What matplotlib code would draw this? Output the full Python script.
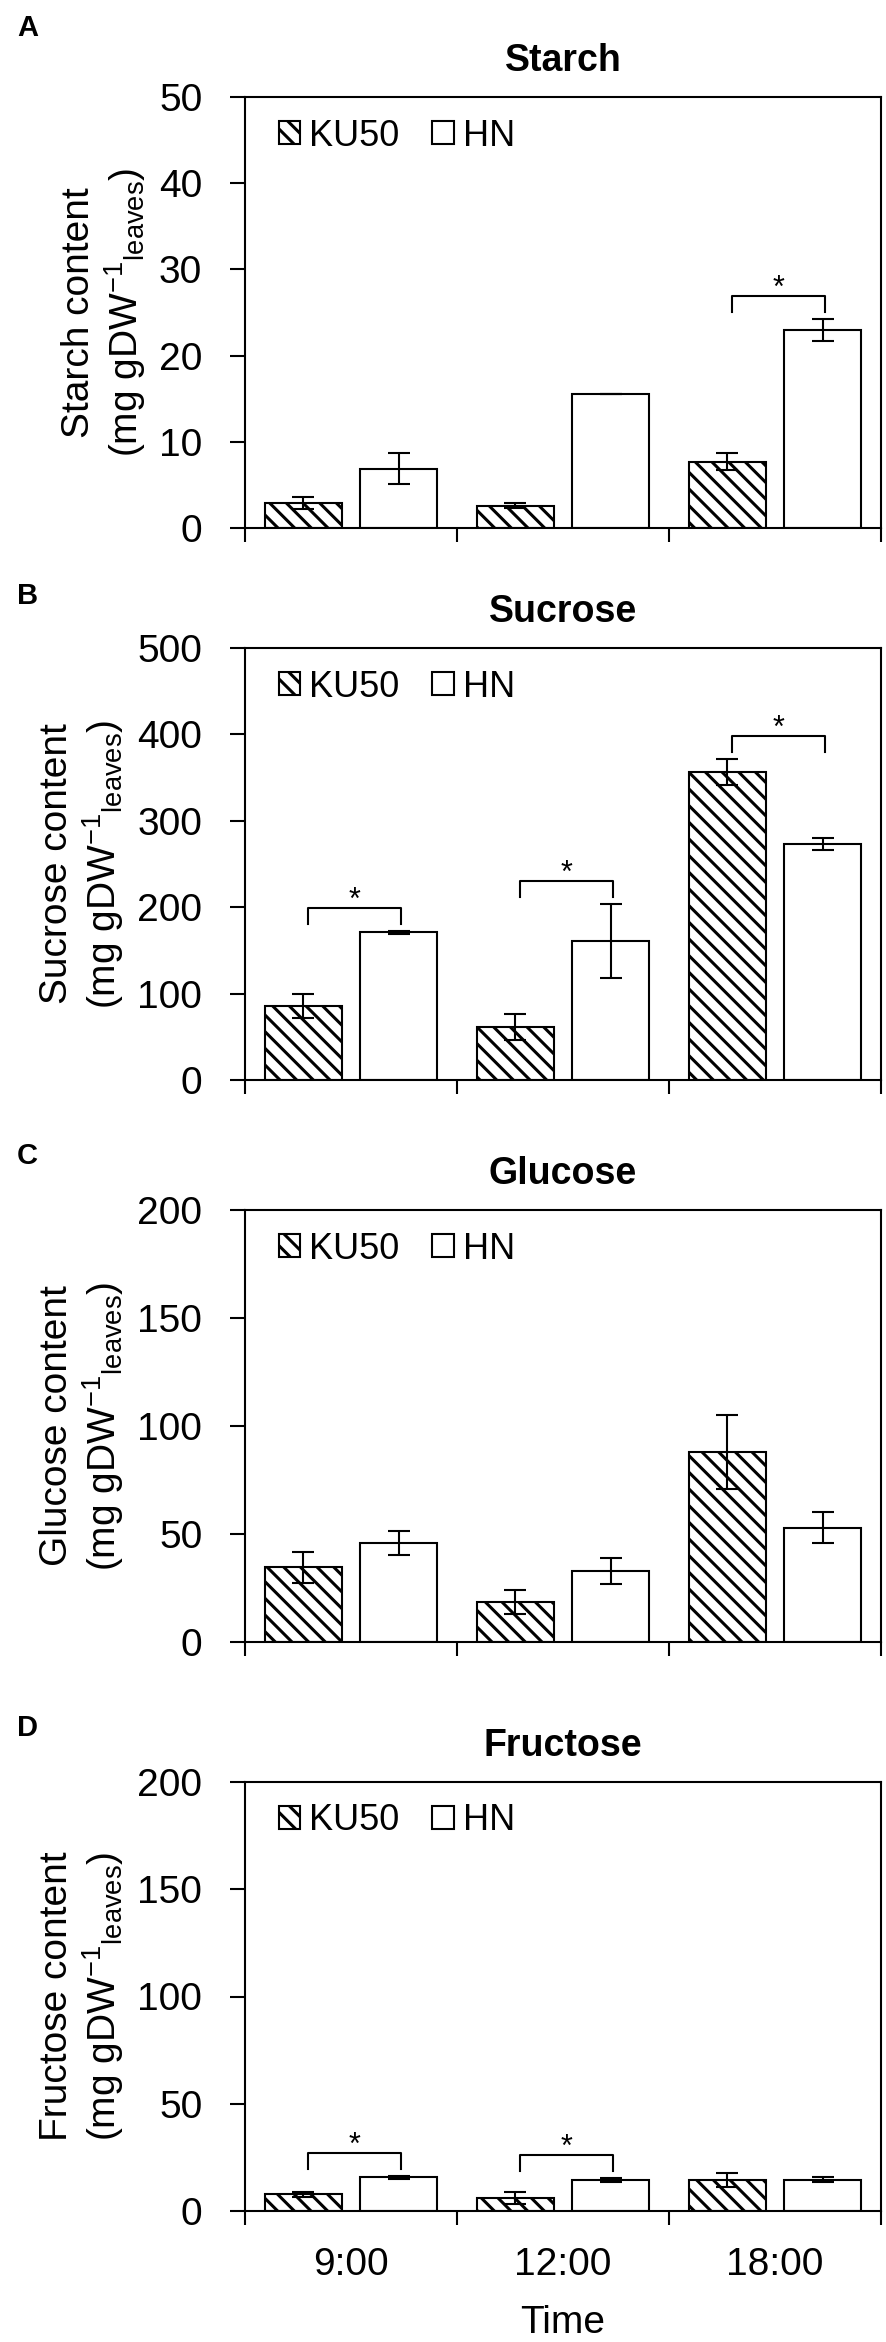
import matplotlib
matplotlib.use('Agg')
import matplotlib.pyplot as plt
from matplotlib.ticker import MultipleLocator

plt.rcParams['font.family'] = ['Liberation Sans', 'DejaVu Sans']
plt.rcParams['mathtext.fontset'] = 'custom'
plt.rcParams['mathtext.rm'] = 'Liberation Sans'
plt.rcParams['mathtext.it'] = 'Liberation Sans:italic'
plt.rcParams['mathtext.default'] = 'regular'
plt.rcParams['hatch.linewidth'] = 2.2

times = ['9:00', '12:00', '18:00']
cultivars = ['KU50', 'HN']

starch_ku50 = [2.9, 2.6, 7.7]
starch_ku50_err = [0.7, 0.3, 1.0]
starch_hn = [6.9, 15.5, 23.0]
starch_hn_err = [1.8, 0.0, 1.3]

sucrose_ku50 = [86, 61, 357]
sucrose_ku50_err = [14, 15, 15]
sucrose_hn = [171, 161, 273]
sucrose_hn_err = [2, 43, 7]

glucose_ku50 = [34.5, 18.5, 88]
glucose_ku50_err = [7, 5.5, 17]
glucose_hn = [46, 33, 53]
glucose_hn_err = [5.5, 6, 7.3]

fructose_ku50 = [7.7, 6.1, 14.6]
fructose_ku50_err = [1.2, 2.8, 3.3]
fructose_hn = [15.7, 14.6, 14.6]
fructose_hn_err = [0.8, 1.0, 1.2]

# groups marked with * (index into times)
starch_sig = [2]
sucrose_sig = [0, 1, 2]
glucose_sig = []
fructose_sig = [0, 1]

panels = [
    ('A', 'Starch', 50, 10, starch_ku50, starch_ku50_err, starch_hn, starch_hn_err, starch_sig),
    ('B', 'Sucrose', 500, 100, sucrose_ku50, sucrose_ku50_err, sucrose_hn, sucrose_hn_err, sucrose_sig),
    ('C', 'Glucose', 200, 50, glucose_ku50, glucose_ku50_err, glucose_hn, glucose_hn_err, glucose_sig),
    ('D', 'Fructose', 200, 50, fructose_ku50, fructose_ku50_err, fructose_hn, fructose_hn_err, fructose_sig),
]

W, H = 887, 2342
fig = plt.figure(figsize=(W / 100, H / 100), dpi=100)

# plot boxes in pixels: left, top, right, zero line
boxes = [(245, 97, 881, 528), (245, 648, 881, 1080), (245, 1210, 881, 1642), (245, 1782, 881, 2211)]
letter_y = [28, 596, 1156, 1728]

x = [0, 1, 2]
off = 0.225
width = 0.365
ekw = dict(ecolor='black', elinewidth=1.5, capsize=8, capthick=1.5)

for i, (letter, name, ymax, step, ku, ku_e, hn, hn_e, sig) in enumerate(panels):
    l, t, r, b = boxes[i]
    ax = fig.add_axes([l / W, 1 - b / H, (r - l) / W, (b - t) / H])

    b1 = ax.bar([v - off for v in x], ku, width, yerr=ku_e, color='white', edgecolor='black',
                hatch='\\\\', linewidth=1.5, error_kw=ekw, label=cultivars[0])
    b2 = ax.bar([v + off for v in x], hn, width, yerr=hn_e, color='white', edgecolor='black',
                linewidth=1.5, error_kw=ekw, label=cultivars[1])

    # significance brackets
    for g in sig:
        top = max(ku[g] + ku_e[g], hn[g] + hn_e[g])
        yb = top + 0.053 * ymax
        leg = 0.037 * ymax
        x1 = g - off + 0.02
        x2 = g + off + 0.01
        ax.plot([x1, x1, x2, x2], [yb - leg, yb, yb, yb - leg], color='black', lw=1.5)
        ax.annotate('*', xy=((x1 + x2) / 2, yb), xytext=(0, 5), textcoords='offset points',
                    ha='center', va='center', fontsize=22)

    ax.set_xlim(-0.5, 2.5)
    ax.set_ylim(0, ymax)
    ax.yaxis.set_major_locator(MultipleLocator(step))
    ax.set_xticks(x)
    ax.set_xticks([-0.5, 0.5, 1.5, 2.5], minor=True)
    ax.tick_params(axis='y', direction='out', length=10.8, width=1.5, labelsize=28, pad=20)
    ax.tick_params(axis='x', which='major', length=0, pad=26, labelsize=28)
    ax.tick_params(axis='x', which='minor', direction='out', length=10, width=1.5)
    for sp in ax.spines.values():
        sp.set_linewidth(1.5)

    if i == len(panels) - 1:
        ax.set_xticklabels(times)
        ax.set_xlabel('Time', fontsize=28, labelpad=16)
    else:
        ax.set_xticklabels([])

    ax.set_title(name, fontsize=27, fontweight='bold', pad=19)
    ax.set_ylabel(name + ' content\n(mg gDW$^{-1}$$_{leaves}$)', fontsize=28, labelpad=8,
                  linespacing=1.15)

    ax.legend(handles=[b1, b2], labels=cultivars, ncol=2, loc='upper left',
              bbox_to_anchor=(0.053, 0.95), frameon=False, fontsize=26,
              handlelength=0.6, handleheight=0.6, handletextpad=0.25,
              columnspacing=0.9, borderpad=0, borderaxespad=0)

    fig.text(17 / W, 1 - letter_y[i] / H, letter, fontsize=21, fontweight='bold',
             ha='left', va='center')

fig.savefig('out.png', dpi=100)
